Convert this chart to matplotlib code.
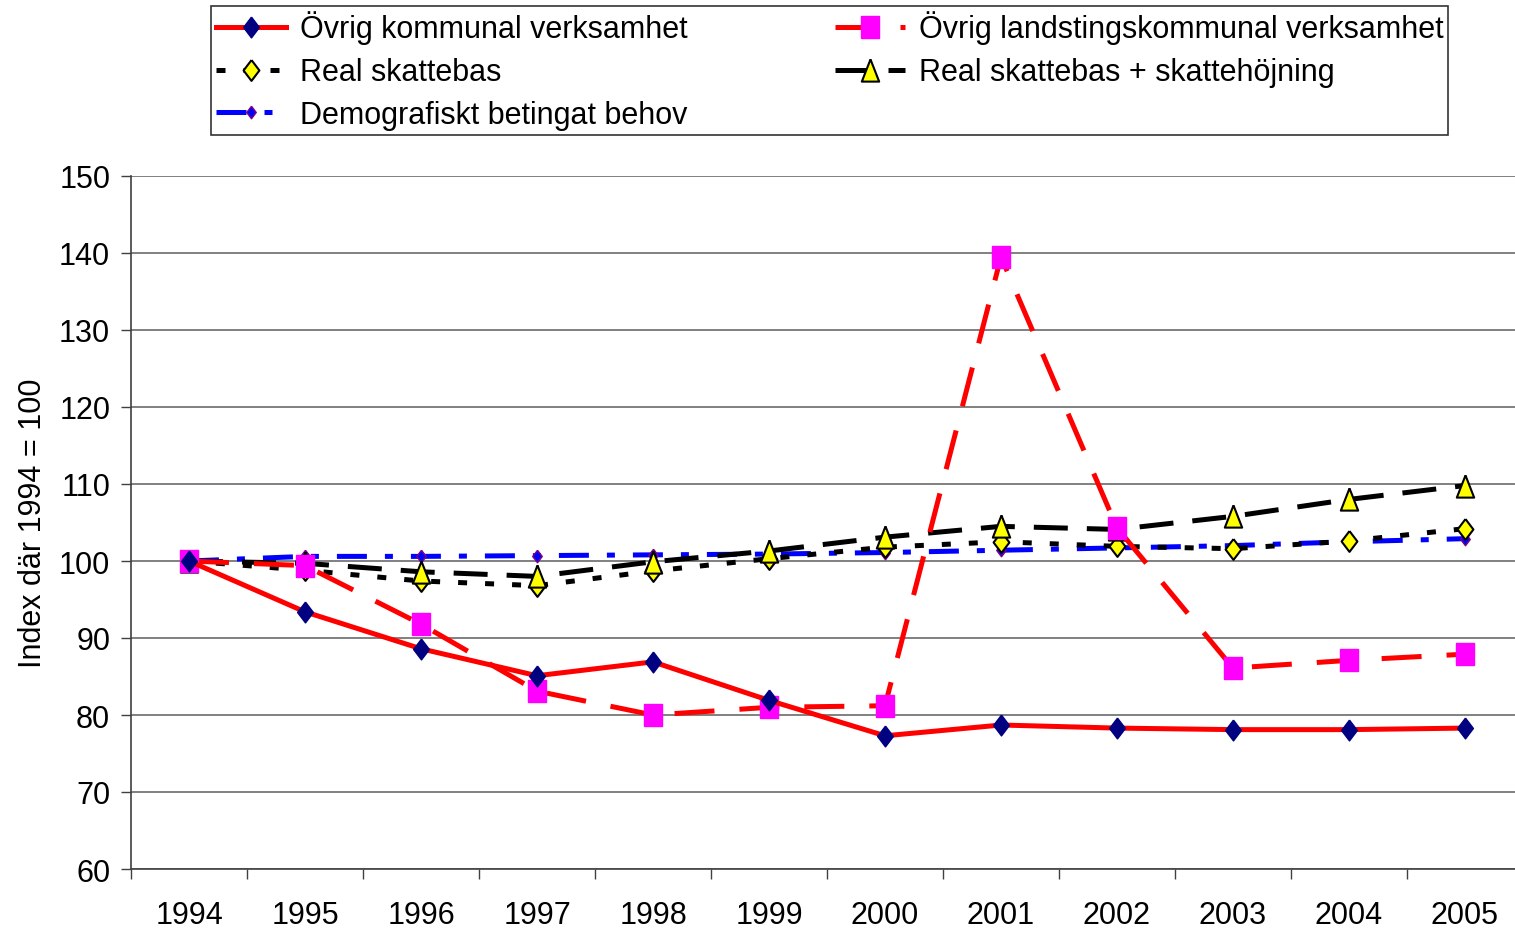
import matplotlib
matplotlib.use('Agg')
import matplotlib.pyplot as plt
import numpy as np

years = ['1994', '1995', '1996', '1997', '1998', '1999',
         '2000', '2001', '2002', '2003', '2004', '2005']

ovrig_kommunal = [100, 93.4, 88.6, 85.1, 86.9, 81.9, 77.3, 78.7, 78.3, 78.1, 78.1, 78.3]
ovrig_landsting = [100, 99.4, 91.8, 83.1, 80.0, 81.0, 81.2, 139.5, 104.3, 86.1, 87.1, 87.9]
real_skattebas = [100, 98.8, 97.4, 96.8, 98.7, 100.3, 101.8, 102.5, 101.9, 101.6, 102.6, 104.2]
skattehojning = [100, 99.7, 98.6, 98.0, 99.9, 101.3, 103.1, 104.5, 104.1, 105.8, 108.0, 109.8]
demografiskt = [100, 100.6, 100.6, 100.7, 100.8, 100.9, 101.1, 101.4, 101.7, 102.0, 102.5, 102.9]

labels = ['Övrig kommunal verksamhet', 'Övrig landstingskommunal verksamhet',
          'Real skattebas', 'Real skattebas + skattehöjning',
          'Demografiskt betingat behov']

plt.rcParams['font.family'] = ['Liberation Sans', 'DejaVu Sans']
plt.rcParams['font.size'] = 22

# excel-like marker shapes (taller than wide)
diamond = [(0, 0.5), (0.38, 0), (0, -0.5), (-0.38, 0), (0, 0.5)]
square = [(-0.39, -0.5), (0.39, -0.5), (0.39, 0.5), (-0.39, 0.5), (-0.39, -0.5)]
triangle = [(0, 0.5), (0.39, -0.5), (-0.39, -0.5), (0, 0.5)]

W, H = 1515, 929
fig = plt.figure(figsize=(W / 100, H / 100), dpi=100, facecolor='white')
ax = fig.add_axes([131 / W, 1 - 870 / H, (W - 131) / W, (870 - 177) / H])

x = np.arange(len(years))
lw = 3.6

h_demo, = ax.plot(x, demografiskt, color='#0000ff', lw=lw, dashes=(6, 3.6, 1.6, 3.6),
                  marker=diamond, markersize=9, markerfacecolor='#0000ff',
                  markeredgecolor='#800080', markeredgewidth=1, zorder=3)
h_skatt, = ax.plot(x, real_skattebas, color='black', lw=lw, dashes=(1.8, 3.6),
                   marker=diamond, markersize=15, markerfacecolor='#ffff00',
                   markeredgecolor='black', markeredgewidth=1.5, zorder=3)
h_hoj, = ax.plot(x, skattehojning, color='black', lw=lw, dashes=(6.8, 3.8),
                 marker=triangle, markersize=16, markerfacecolor='#ffff00',
                 markeredgecolor='black', markeredgewidth=1.5, zorder=3)
h_land, = ax.plot(x, ovrig_landsting, color='#ff0000', lw=lw, dashes=(8, 5),
                  marker=square, markersize=16, markerfacecolor='#ff00ff',
                  markeredgecolor='#ff00ff', zorder=4)
h_kom, = ax.plot(x, ovrig_kommunal, color='#ff0000', lw=lw, ls='-',
                 marker=diamond, markersize=15, markerfacecolor='#000080',
                 markeredgecolor='#000080', zorder=5)

ax.set_ylim(60, 150)
ax.set_yticks(np.arange(60, 151, 10))
ax.set_xticks(x)
ax.set_xticklabels(years)
ax.set_xticks(np.arange(-0.5, 11, 1), minor=True)
# set limits after ticks, otherwise set_xticks widens them
ax.set_xlim(-0.5, -0.5 + (W - 131) / 116.0)
ax.tick_params(axis='x', which='major', length=0, pad=22)
ax.tick_params(axis='x', which='minor', length=7, width=1, color='#404040')
ax.tick_params(axis='y', length=7, width=1, color='#404040', pad=8)

ax.grid(axis='y', color='#808080', lw=1.4)
ax.set_axisbelow(True)
for s in ['top', 'right']:
    ax.spines[s].set_visible(False)
for s in ['left', 'bottom']:
    ax.spines[s].set_color('#404040')
    ax.spines[s].set_linewidth(1.2)

ax.set_ylabel('Index där 1994 = 100', labelpad=8)

leg = fig.legend([h_kom, h_skatt, h_demo, h_land, h_hoj],
                 [labels[0], labels[2], labels[4], labels[1], labels[3]],
                 ncol=2, loc='upper left', bbox_to_anchor=(211 / W, 1 - 7 / H),
                 frameon=True, fancybox=False, edgecolor='black',
                 handlelength=2.3, handletextpad=0.47, columnspacing=4.8,
                 labelspacing=0.42, borderpad=0.15, borderaxespad=0,
                 fontsize=22)
leg.get_frame().set_linewidth(1.2)

fig.savefig('out.png', dpi=100)
